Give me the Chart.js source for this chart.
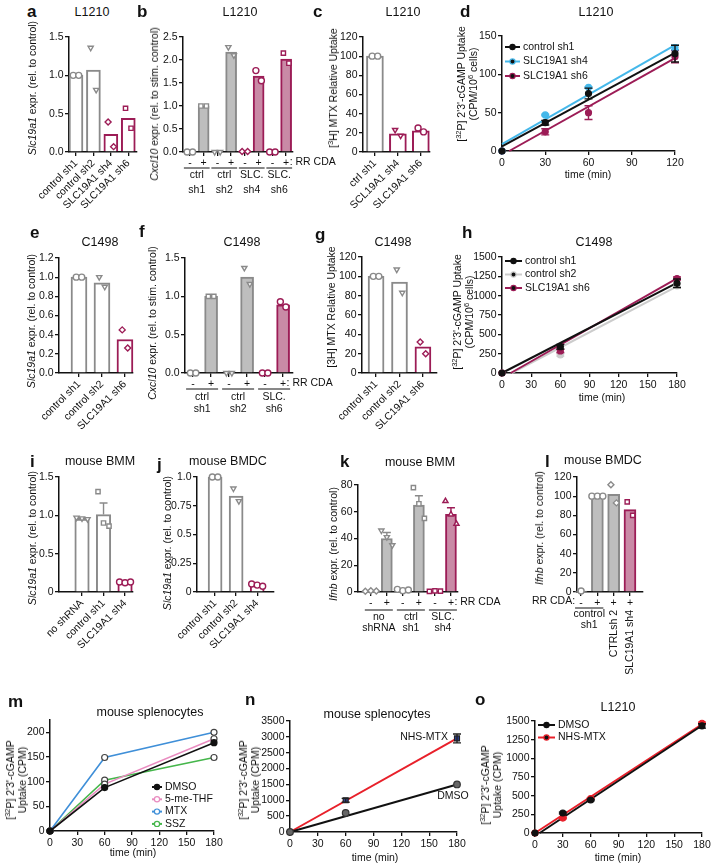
<!DOCTYPE html>
<html>
<head>
<meta charset="utf-8">
<script src="https://cdn.jsdelivr.net/npm/chart.js@4.4.1/dist/chart.umd.min.js"></script>
<style>
  body { margin: 0; background: #fff; }
  #fig { position: relative; width: 714px; height: 867px; overflow: hidden;
         font-family: "Liberation Sans", Arial, sans-serif; color: #111; }
  #fig canvas { position: absolute; }
  .t { position: absolute; white-space: nowrap; }
  .lt { font-weight: bold; font-size: 17px; transform: translateY(-50%); }
  .ti { font-size: 12.5px; transform: translate(-50%, -50%); }
  .yt { font-size: 10.5px; line-height: 12px; text-align: center; transform: translate(-50%, -50%) rotate(-90deg); }
  .xt { font-size: 10.5px; transform: translate(-50%, -50%); }
  sup { font-size: 7.5px; vertical-align: 4px; line-height: 0; }
</style>
</head>
<body>
<div id="fig"></div>
<script>
// ---------- data ----------

// a - L1210 Slc19a1 expression
const aCats = ['control sh1', 'control sh2', 'SLC19A1 sh4', 'SLC19A1 sh6'];
const aMean = [1.0, 1.07, 0.23, 0.44];
const aReps = [[1.0, 1.0], [1.36, 0.81], [0.39, 0.07], [0.57, 0.31]];
const aY = ['0.0', '0.5', '1.0', '1.5'];

// b - L1210 Cxcl10 after RR CDA
const bSigns = ['-', '+', '-', '+', '-', '+', '-', '+'];
const bGroups = [['ctrl', 'sh1'], ['ctrl', 'sh2'], ['SLC.', 'sh4'], ['SLC.', 'sh6']];
const bMean = [0, 1.0, 0, 2.17, 0.01, 1.65, 0, 2.02];
const bReps = [[0, 0], [1.0, 1.0], [0, 0], [2.28, 2.1], [0.01, 0.01], [1.77, 1.55], [0, 0], [2.15, 1.93]];
const bY = ['0.0', '0.5', '1.0', '1.5', '2.0', '2.5'];

// c - L1210 MTX uptake
const cCats = ['ctrl sh1', 'SCL19A1 sh4', 'SLC19A1 sh6'];
const cMean = [100, 19, 22];
const cReps = [[100, 100], [23, 17], [25, 21]];
const cY = ['0', '20', '40', '60', '80', '100', '120'];

// d - L1210 cGAMP uptake
const dTime = [0, 30, 60, 120];
const dNames = ['control sh1', 'SLC19A1 sh4', 'SLC19A1 sh6'];
const dCtrl = [0, 37, 75, 127], dCtrlErr = [0, 3, 7, 11];
const dSh4 = [0, 47, 83, 135], dSh4Err = [0, 1, 1, 3];
const dSh6 = [0, 25, 50, 123], dSh6Err = [0, 4, 9, 8];
const dCtrlFitX = [0, 120], dCtrlFit = [6, 128];
const dSh4FitX = [0, 120], dSh4Fit = [9, 138];
const dSh6FitX = [5, 120], dSh6Fit = [0, 121];
const dX = ['0', '30', '60', '90', '120'];
const dY = ['0', '50', '100', '150'];

// e - C1498 Slc19a1 expression
const eCats = ['control sh1', 'control sh2', 'SLC19A1 sh6'];
const eMean = [1.0, 0.94, 0.35];
const eReps = [[1.0, 1.0], [1.0, 0.9], [0.45, 0.26]];
const eY = ['0.0', '0.2', '0.4', '0.6', '0.8', '1.0', '1.2'];

// f - C1498 Cxcl10
const fSigns = ['-', '+', '-', '+', '-', '+'];
const fGroups = [['ctrl', 'sh1'], ['ctrl', 'sh2'], ['SLC.', 'sh6']];
const fMean = [0, 1.0, 0, 1.25, 0, 0.89];
const fReps = [[0, 0], [1.0, 1.0], [0, 0], [1.37, 1.16], [0, 0], [0.93, 0.86]];
const fY = ['0.0', '0.5', '1.0', '1.5'];

// g - C1498 MTX uptake
const gCats = ['control sh1', 'control sh2', 'SLC19A1 sh6'];
const gMean = [100, 94, 27];
const gReps = [[100, 100], [107, 83], [32, 20]];
const gY = ['0', '20', '40', '60', '80', '100', '120'];

// h - C1498 cGAMP uptake
const hTime = [0, 60, 180];
const hNames = ['control sh1', 'control sh2', 'SLC19A1 sh6'];
const hC1 = [0, 340, 1160], hC1Err = [0, 30, 55];
const hC2 = [0, 233, 1125], hC2Err = [0, 15, 30];
const hSh6 = [0, 285, 1222], hSh6Err = [0, 20, 20];
const hC1FitX = [0, 180], hC1Fit = [0, 1165];
const hC2FitX = [10, 180], hC2Fit = [0, 1120];
const hSh6FitX = [9, 180], hSh6Fit = [0, 1225];
const hX = ['0', '30', '60', '90', '120', '150', '180'];
const hY = ['0', '250', '500', '750', '1000', '1250', '1500'];

// i - mouse BMM Slc19a1
const iCats = ['no shRNA', 'control sh1', 'SLC19A1 sh4'];
const iMean = [0.95, 1.01, 0.12];
const iErr = [0.01, 0.15, 0.01];
const iReps = [[0.97, 0.96, 0.95], [1.31, 0.9, 0.86], [0.13, 0.12, 0.13]];
const iY = ['0', '0.5', '1.0', '1.5'];

// j - mouse BMDC Slc19a1
const jCats = ['control sh1', 'control sh2', 'SLC19A1 sh4'];
const jMean = [1.0, 0.835, 0.06];
const jReps = [[1.0, 1.0], [0.9, 0.79], [0.07, 0.06, 0.05]];
const jY = ['0', '0.25', '0.5', '0.75', '1.0'];

// k - mouse BMM Ifnb
const kSigns = ['-', '+', '-', '+', '-', '+'];
const kGroups = [['no', 'shRNA'], ['ctrl', 'sh1'], ['SLC.', 'sh4']];
const kMean = [0.8, 40, 1.5, 65, 0.7, 58];
const kErr = [0, 4.5, 0, 7, 0, 5];
const kReps = [[0.5, 1, 0.8], [46, 41, 35], [2, 1, 1.5], [78, 66, 55], [0.5, 0.8, 0.7], [68, 58, 51]];
const kY = ['0', '20', '40', '60', '80'];

// l - mouse BMDC Ifnb
const lSigns = ['-', '+', '+', '+'];
const lGroup = ['control', 'sh1'];
const lRotCats = ['CTRLsh 2', 'SLC19A1 sh4'];
const lMean = [1, 100, 102, 86];
const lReps = [[1], [100, 100, 100], [112, 93], [94, 80]];
const lY = ['0', '20', '40', '60', '80', '100', '120'];

// m - mouse splenocytes, folate drugs
const mTime = [0, 60, 180];
const mNames = ['DMSO', '5-me-THF', 'MTX', 'SSZ'];
const mDmso = [0, 88, 179];
const mThf = [0, 95, 187];
const mMtx = [0, 149, 200];
const mSsz = [0, 103, 149];
const mX = ['0', '30', '60', '90', '120', '150', '180'];
const mY = ['0', '25', '50', '75', '100', '125', '150', '175', '200', '225'];

// n - mouse splenocytes, NHS-MTX
const nTime = [0, 60, 180];
const nNames = ['DMSO', 'NHS-MTX'];
const nDmso = [0, 600, 1500];
const nNhs = [0, 1000, 2950], nNhsErr = [0, 60, 140];
const nDmsoFitX = [0, 180], nDmsoFit = [0, 1500];
const nNhsFitX = [0, 180], nNhsFit = [0, 2950];
const nX = ['0', '30', '60', '90', '120', '150', '180'];
const nY = ['0', '500', '1000', '1500', '2000', '2500', '3000', '3500'];

// o - L1210, NHS-MTX
const oTime = [0, 30, 60, 180];
const oNames = ['DMSO', 'NHS-MTX'];
const oDmso = [0, 268, 442, 1435], oDmsoErr = [0, 12, 10, 30];
const oNhs = [0, 200, 460, 1470], oNhsErr = [0, 10, 10, 15];
const oDmsoFitX = [5, 180], oDmsoFit = [0, 1440];
const oNhsFitX = [0, 180], oNhsFit = [0, 1455];
const oX = ['0', '30', '60', '90', '120', '150', '180'];
const oY = ['0', '250', '500', '750', '1000', '1250', '1500'];

// ---------- styling ----------
const G = '#8a8a8a', GF = '#bebebe', R = '#9c1c56', RF = '#c98aa6', W = '#ffffff';
const INK = '#111';
const FONT = '"Liberation Sans", Arial, sans-serif';
Chart.defaults.font.family = FONT;
Chart.defaults.font.size = 10.5;
Chart.defaults.color = INK;

const SHAPE = {
  circle: ['circle', 0], square: ['rect', 0], diamond: ['rectRot', 0],
  tri: ['triangle', 0], triDown: ['triangle', 180]
};

// canvas margins around every plot area
const PAD = {l: 62, t: 14, r: 72, b: 92};
const fig = document.getElementById('fig');

function mkCanvas(box) {
  const c = document.createElement('canvas');
  const w = box[2] - box[0] + PAD.l + PAD.r;
  const h = box[3] - box[1] + PAD.t + PAD.b;
  c.width = w; c.height = h;
  c.style.left = (box[0] - PAD.l) + 'px';
  c.style.top = (box[1] - PAD.t) + 'px';
  c.style.width = w + 'px';
  c.style.height = h + 'px';
  fig.appendChild(c);
  return c;
}

const axisLine = {
  grid: {display: true, drawOnChartArea: false, tickLength: 4, color: INK, lineWidth: 1.3, offset: false},
  border: {display: true, color: INK, width: 1.5}
};

function yAxis(labels) {
  const vals = labels.map(parseFloat);
  return Object.assign({
    type: 'linear', min: vals[0], max: vals[vals.length - 1],
    afterFit: s => { s.width = PAD.l; },
    afterBuildTicks: s => { s.ticks = vals.map(v => ({value: v})); },
    ticks: {padding: 1.5, callback: (v, i) => labels[i]}
  }, axisLine);
}

function xNum(labels) {
  const vals = labels.map(parseFloat);
  return Object.assign({
    type: 'linear', offset: false, min: vals[0], max: vals[vals.length - 1],
    afterFit: s => { s.height = PAD.b; },
    afterBuildTicks: s => { s.ticks = vals.map(v => ({value: v})); },
    ticks: {padding: 2, minRotation: 0, maxRotation: 0, autoSkip: false, callback: (v, i) => labels[i]}
  }, axisLine);
}

function xCat(labels, xr, rot) {
  return Object.assign({
    type: 'linear', offset: false, min: xr[0], max: xr[1],
    afterFit: s => { s.height = PAD.b; },
    afterBuildTicks: s => { s.ticks = labels.map((c, i) => ({value: i})); },
    ticks: {padding: 1, minRotation: rot, maxRotation: rot, autoSkip: false, callback: (v, i) => labels[i]}
  }, axisLine);
}

function opts(scales, plugins) {
  return {
    responsive: false, animation: false, events: [],
    layout: {padding: {top: PAD.t, right: PAD.r, left: 0, bottom: 0}},
    scales,
    plugins: Object.assign({legend: {display: false}, tooltip: {enabled: false}}, plugins || {})
  };
}

// ---------- plugins ----------
const errorBars = {
  id: 'errorBars',
  afterDatasetDraw(chart, args) {
    const ds = chart.data.datasets[args.index];
    if (!ds.err) return;
    const ctx = chart.ctx, ys = chart.scales.y;
    ctx.save();
    ctx.lineWidth = 1.4;
    args.meta.data.forEach((el, i) => {
      const e = ds.err[i];
      if (!e) return;
      const v = ds.data[i].y;
      const top = ys.getPixelForValue(v + e);
      const bot = ys.getPixelForValue(ds.upOnly ? v : v - e);
      ctx.strokeStyle = Array.isArray(ds.errColor) ? ds.errColor[i] : ds.errColor;
      ctx.beginPath();
      ctx.moveTo(el.x, top); ctx.lineTo(el.x, bot);
      ctx.moveTo(el.x - 4, top); ctx.lineTo(el.x + 4, top);
      if (!ds.upOnly) { ctx.moveTo(el.x - 4, bot); ctx.lineTo(el.x + 4, bot); }
      ctx.stroke();
    });
    ctx.restore();
  }
};

const groupLabels = {
  id: 'groupLabels',
  afterDraw(chart, args, o) {
    if (!o.groups) return;
    const ctx = chart.ctx, xs = chart.scales.x, b = chart.chartArea.bottom;
    ctx.save();
    ctx.font = '10.5px ' + FONT;
    ctx.fillStyle = INK; ctx.strokeStyle = INK; ctx.lineWidth = 1;
    ctx.textBaseline = 'middle';
    o.groups.forEach(g => {
      const x0 = xs.getPixelForValue(g.from), x1 = xs.getPixelForValue(g.to);
      ctx.beginPath();
      ctx.moveTo(x0 - o.ext, b + o.lineY); ctx.lineTo(x1 + o.ext, b + o.lineY);
      ctx.stroke();
      ctx.textAlign = 'center';
      g.lines.forEach((s, k) => ctx.fillText(s, (x0 + x1) / 2, b + o.textY[k]));
    });
    if (o.tail) {
      ctx.textAlign = 'left';
      ctx.fillText(o.tail, xs.getPixelForValue(o.tailAt) + 3.5, b + o.signY);
    }
    if (o.lead) {
      ctx.textAlign = 'right';
      ctx.fillText(o.lead, xs.getPixelForValue(0) - 6, b + o.signY);
    }
    (o.rotated || []).forEach(r => {
      ctx.save();
      ctx.translate(xs.getPixelForValue(r.at), b + o.rotY);
      ctx.rotate(-Math.PI / 2);
      ctx.textAlign = 'right';
      ctx.fillText(r.text, 0, 0);
      ctx.restore();
    });
    ctx.restore();
  }
};

const inLegend = {
  id: 'inLegend',
  afterDraw(chart, args, o) {
    if (!o.items) return;
    const ctx = chart.ctx, a = chart.chartArea;
    ctx.save();
    ctx.font = '10.5px ' + FONT;
    ctx.textBaseline = 'middle';
    o.items.forEach((it, k) => {
      const x = a.left + o.x, y = a.top + o.y + k * o.dy;
      ctx.strokeStyle = it.color; ctx.lineWidth = 2;
      ctx.beginPath(); ctx.moveTo(x, y); ctx.lineTo(x + o.len, y); ctx.stroke();
      ctx.beginPath(); ctx.arc(x + o.len / 2, y, 2.6, 0, Math.PI * 2);
      ctx.fillStyle = it.fill || it.color; ctx.fill();
      ctx.lineWidth = 1.2; ctx.stroke();
      ctx.fillStyle = INK; ctx.textAlign = 'left';
      ctx.fillText(it.label, x + o.len + 3, y);
    });
    ctx.restore();
  }
};

const notes = {
  id: 'notes',
  afterDraw(chart, args, o) {
    if (!o.items) return;
    const ctx = chart.ctx;
    ctx.save();
    ctx.font = '10.5px ' + FONT;
    ctx.fillStyle = INK; ctx.textBaseline = 'middle';
    o.items.forEach(n => {
      ctx.textAlign = n.align;
      ctx.fillText(n.text, chart.scales.x.getPixelForValue(n.x) + n.dx,
                   chart.scales.y.getPixelForValue(n.y) + n.dy);
    });
    ctx.restore();
  }
};

Chart.register(errorBars, groupLabels, inLegend, notes);

// ---------- panel builders ----------
function barPanel(p) {
  const ppu = (p.box[2] - p.box[0]) / (p.xr[1] - p.xr[0]);
  const pts = [], st = [], rot = [], col = [];
  p.reps.forEach((vals, i) => vals.forEach((v, k) => {
    pts.push({x: i + (k - (vals.length - 1) / 2) * 5.5 / ppu, y: v});
    st.push(SHAPE[p.shapes[i]][0]);
    rot.push(SHAPE[p.shapes[i]][1]);
    col.push(p.colors[i]);
  }));
  return new Chart(mkCanvas(p.box), {
    type: 'bar',
    data: {datasets: [
      {type: 'scatter', data: pts, order: 0, clip: false,
       pointStyle: st, pointRotation: rot, pointRadius: 3, pointBorderWidth: 1.4,
       pointBorderColor: col, pointBackgroundColor: W},
      {type: 'bar', data: p.mean.map((m, i) => ({x: i, y: m})), order: 1, clip: false,
       backgroundColor: p.fills, borderColor: p.colors, borderWidth: 2, barThickness: p.width,
       err: p.err, upOnly: true, errColor: p.colors}
    ]},
    options: opts({x: xCat(p.cats, p.xr, p.rot), y: yAxis(p.y)}, p.plugins)
  });
}

function linePanel(p) {
  const ds = [];
  p.series.forEach(s => ds.push({
    type: 'scatter', data: s.x.map((t, i) => ({x: t, y: s.y[i]})), order: 0, clip: false,
    showLine: !!s.connect, borderColor: s.color, borderWidth: 1.6,
    pointStyle: s.style || 'circle', pointRadius: s.r || 3, pointBorderWidth: 1.2,
    pointBorderColor: s.edge || s.color, pointBackgroundColor: s.fill || s.color,
    err: s.err, errColor: s.errColor || s.edge || s.color
  }));
  (p.fits || []).forEach(f => ds.push({
    type: 'scatter', showLine: true, order: 1, clip: false,
    data: f.x.map((t, i) => ({x: t, y: f.y[i]})), borderColor: f.color, borderWidth: 2, pointRadius: 0
  }));
  return new Chart(mkCanvas(p.box), {
    type: 'scatter',
    data: {datasets: ds},
    options: opts({x: xNum(p.xt), y: yAxis(p.yt)}, p.plugins)
  });
}

function pairGroups(groups) {
  return groups.map((g, i) => ({from: 2 * i, to: 2 * i + 1, lines: g}));
}

// ---------- row 1 ----------
barPanel({box: [69, 37, 137, 152], xr: [-0.4, 3.5], rot: 45, width: 14,
  cats: aCats, mean: aMean, reps: aReps, y: aY,
  colors: [G, G, R, R], fills: [W, W, W, W], shapes: ['circle', 'triDown', 'diamond', 'square']});

barPanel({box: [183, 37, 293, 152], xr: [-0.5, 7.5], rot: 0, width: 11,
  cats: bSigns, mean: bMean, reps: bReps, y: bY,
  colors: [G, G, G, G, R, R, R, R], fills: [GF, GF, GF, GF, RF, RF, RF, RF],
  shapes: ['circle', 'square', 'triDown', 'triDown', 'diamond', 'circle', 'circle', 'square'],
  plugins: {groupLabels: {groups: pairGroups(bGroups), ext: 6, lineY: 16, textY: [23, 38],
    signY: 10, tail: ': RR CDA', tailAt: bSigns.length - 1}}});

barPanel({box: [363, 37, 430, 152], xr: [-0.52, 2.4], rot: 45, width: 17,
  cats: cCats, mean: cMean, reps: cReps, y: cY,
  colors: [G, R, R], fills: [W, W, W], shapes: ['circle', 'triDown', 'circle']});

linePanel({box: [502, 36, 675, 151], xt: dX, yt: dY,
  series: [
    {x: dTime, y: dCtrl, err: dCtrlErr, color: '#111'},
    {x: dTime, y: dSh4, err: dSh4Err, color: '#45b8ea'},
    {x: dTime, y: dSh6, err: dSh6Err, color: R}
  ],
  fits: [
    {x: dCtrlFitX, y: dCtrlFit, color: '#111'},
    {x: dSh4FitX, y: dSh4Fit, color: '#45b8ea'},
    {x: dSh6FitX, y: dSh6Fit, color: R}
  ],
  plugins: {inLegend: {x: 3, y: 11, dy: 14.5, len: 15, items: [
    {label: dNames[0], color: '#111'}, {label: dNames[1], color: '#45b8ea'}, {label: dNames[2], color: R}]}}});

// ---------- row 2 ----------
barPanel({box: [59, 258, 133, 373], xr: [-0.87, 2.35], rot: 45, width: 16,
  cats: eCats, mean: eMean, reps: eReps, y: eY,
  colors: [G, G, R], fills: [W, W, W], shapes: ['circle', 'triDown', 'diamond']});

barPanel({box: [185, 258, 293, 373], xr: [-0.45, 5.55], rot: 0, width: 13,
  cats: fSigns, mean: fMean, reps: fReps, y: fY,
  colors: [G, G, G, G, R, R], fills: [GF, GF, GF, GF, RF, RF],
  shapes: ['circle', 'square', 'triDown', 'triDown', 'circle', 'circle'],
  plugins: {groupLabels: {groups: pairGroups(fGroups), ext: 7, lineY: 16, textY: [24, 36],
    signY: 10, tail: ': RR CDA', tailAt: fSigns.length - 1}}});

barPanel({box: [362, 257, 437, 373], xr: [-0.6, 2.6], rot: 45, width: 16,
  cats: gCats, mean: gMean, reps: gReps, y: gY,
  colors: [G, G, R], fills: [W, W, W], shapes: ['circle', 'triDown', 'diamond']});

linePanel({box: [502, 257, 677, 373], xt: hX, yt: hY,
  series: [
    {x: hTime, y: hC1, err: hC1Err, color: '#111'},
    {x: hTime, y: hSh6, err: hSh6Err, color: R},
    {x: hTime, y: hC2, err: hC2Err, color: '#cccccc'}
  ],
  fits: [
    {x: hC1FitX, y: hC1Fit, color: '#111'},
    {x: hSh6FitX, y: hSh6Fit, color: R},
    {x: hC2FitX, y: hC2Fit, color: '#cccccc'}
  ],
  plugins: {inLegend: {x: 3, y: 4, dy: 13.5, len: 17, items: [
    {label: hNames[0], color: '#111'}, {label: hNames[1], color: '#cccccc'}, {label: hNames[2], color: R}]}}});

// ---------- row 3 ----------
barPanel({box: [59, 477, 133, 592], xr: [-1.07, 2.37], rot: 45, width: 14.5,
  cats: iCats, mean: iMean, reps: iReps, y: iY, err: iErr,
  colors: [G, G, R], fills: [W, W, W], shapes: ['triDown', 'square', 'circle']});

barPanel({box: [197, 477, 274, 592], xr: [-0.86, 2.8], rot: 45, width: 14,
  cats: jCats, mean: jMean, reps: jReps, y: jY,
  colors: [G, G, R], fills: [W, W, W], shapes: ['circle', 'triDown', 'circle']});

barPanel({box: [358, 485, 458, 592], xr: [-0.8, 5.44], rot: 0, width: 11,
  cats: kSigns, mean: kMean, reps: kReps, y: kY, err: kErr,
  colors: [G, G, G, G, R, R], fills: [GF, GF, GF, GF, RF, RF],
  shapes: ['diamond', 'triDown', 'circle', 'square', 'square', 'tri'],
  plugins: {groupLabels: {groups: pairGroups(kGroups), ext: 6, lineY: 18, textY: [25, 36],
    signY: 10, tail: ': RR CDA', tailAt: kSigns.length - 1}}});

barPanel({box: [577, 477, 643, 592], xr: [-0.25, 3.8], rot: 0, width: 12,
  cats: lSigns, mean: lMean, reps: lReps, y: lY,
  colors: [G, G, G, R], fills: [GF, GF, GF, RF], shapes: ['circle', 'circle', 'diamond', 'square'],
  plugins: {groupLabels: {groups: [{from: 0, to: 1, lines: lGroup}], ext: 6, lineY: 16, textY: [22, 33],
    signY: 9, lead: 'RR CDA:', rotY: 18,
    rotated: lRotCats.map((t, k) => ({at: 2 + k, text: t}))}}});

// ---------- row 4 ----------
linePanel({box: [50, 720, 214, 831], xt: mX, yt: mY,
  series: [
    {x: mTime, y: mDmso, color: '#111', connect: true},
    {x: mTime, y: mThf, color: '#e98cc0', edge: '#444', fill: W, connect: true},
    {x: mTime, y: mMtx, color: '#3f8fd8', edge: '#444', fill: W, connect: true},
    {x: mTime, y: mSsz, color: '#45b64b', edge: '#444', fill: W, connect: true}
  ],
  plugins: {inLegend: {x: 102, y: 67, dy: 12.3, len: 10, items: [
    {label: mNames[0], color: '#111'}, {label: mNames[1], color: '#e98cc0', fill: W},
    {label: mNames[2], color: '#3f8fd8', fill: W}, {label: mNames[3], color: '#45b64b', fill: W}]}}});

linePanel({box: [290, 721, 457, 832], xt: nX, yt: nY,
  series: [
    {x: nTime, y: nDmso, color: '#666', edge: '#333', r: 3.3},
    {x: nTime, y: nNhs, err: nNhsErr, color: '#2b3f95', edge: '#222', errColor: '#222', style: 'rect', r: 3.5}
  ],
  fits: [
    {x: nDmsoFitX, y: nDmsoFit, color: '#111'},
    {x: nNhsFitX, y: nNhsFit, color: '#e8202a'}
  ],
  plugins: {notes: {items: [
    {text: nNames[1], x: nTime[2], y: nNhs[2], dx: -9, dy: -1, align: 'right'},
    {text: nNames[0], x: nTime[2], y: nDmso[2], dx: -4, dy: 12, align: 'center'}]}}});

linePanel({box: [535, 721, 702, 833], xt: oX, yt: oY,
  series: [
    {x: oTime, y: oDmso, err: oDmsoErr, color: '#111'},
    {x: oTime, y: oNhs, err: oNhsErr, color: '#e8202a'}
  ],
  fits: [
    {x: oDmsoFitX, y: oDmsoFit, color: '#111'},
    {x: oNhsFitX, y: oNhsFit, color: '#e8202a'}
  ],
  plugins: {inLegend: {x: 3, y: 4, dy: 12.5, len: 17, items: [
    {label: oNames[0], color: '#111'}, {label: oNames[1], color: '#e8202a'}]}}});

// ---------- letters, titles and axis titles ----------
const CGAMP = "[<sup>32</sup>P] 2'3'-cGAMP";
const texts = [
  ['lt', 27, 12, 'a'], ['ti', 92, 12, 'L1210'], ['yt', 32, 88, '<i>Slc19a1</i> expr. (rel. to control)'],
  ['lt', 137, 12, 'b'], ['ti', 240, 12, 'L1210'], ['yt', 154, 104, '<i>Cxcl10</i> expr. (rel. to stim. control)'],
  ['lt', 313, 12, 'c'], ['ti', 403, 12, 'L1210'], ['yt', 333, 88, '[<sup>3</sup>H] MTX Relative Uptake'],
  ['lt', 460, 12, 'd'], ['ti', 596, 12, 'L1210'], ['yt', 467, 84, CGAMP + ' Uptake<br>(CPM/10<sup>6</sup> cells)'],
  ['xt', 588, 174, 'time (min)'],
  ['lt', 30, 233, 'e'], ['ti', 100, 242, 'C1498'], ['yt', 31, 321, '<i>Slc19a1</i> expr. (rel. to control)'],
  ['lt', 139, 232, 'f'], ['ti', 242, 242, 'C1498'], ['yt', 152, 323, '<i>Cxcl10</i> expr. (rel. to stim. control)'],
  ['lt', 315, 235, 'g'], ['ti', 393, 242, 'C1498'], ['yt', 331, 307, '[3H] MTX Relative Uptake'],
  ['lt', 462, 233, 'h'], ['ti', 594, 242, 'C1498'], ['yt', 463, 312, CGAMP + ' Uptake<br>(CPM/10<sup>6</sup> cells)'],
  ['xt', 602, 397, 'time (min)'],
  ['lt', 30, 462, 'i'], ['ti', 100, 461, 'mouse BMM'], ['yt', 32, 538, '<i>Slc19a1</i> expr. (rel. to control)'],
  ['lt', 157, 465, 'j'], ['ti', 228, 461, 'mouse BMDC'], ['yt', 167, 543, '<i>Slc19a1</i> expr. (rel. to control)'],
  ['lt', 340, 462, 'k'], ['ti', 420, 462, 'mouse BMM'], ['yt', 333, 544, '<i>Ifnb</i> expr. (rel. to control)'],
  ['lt', 545, 462, 'l'], ['ti', 603, 460, 'mouse BMDC'], ['yt', 539, 528, '<i>Ifnb</i> expr. (rel. to control)'],
  ['lt', 8, 702, 'm'], ['ti', 150, 712, 'mouse splenocytes'], ['yt', 16, 780, CGAMP + '<br>Uptake (CPM)'],
  ['xt', 133, 852, 'time (min)'],
  ['lt', 245, 700, 'n'], ['ti', 377, 714, 'mouse splenocytes'], ['yt', 249, 780, CGAMP + '<br>Uptake (CPM)'],
  ['xt', 375, 857, 'time (min)'],
  ['lt', 475, 700, 'o'], ['ti', 618, 707, 'L1210'], ['yt', 491, 785, CGAMP + '<br>Uptake (CPM)'],
  ['xt', 618, 857, 'time (min)']
];
texts.forEach(([cls, x, y, html]) => {
  const d = document.createElement('div');
  d.className = 't ' + cls;
  d.style.left = x + 'px';
  d.style.top = y + 'px';
  d.innerHTML = html;
  fig.appendChild(d);
});
</script>
</body>
</html>
